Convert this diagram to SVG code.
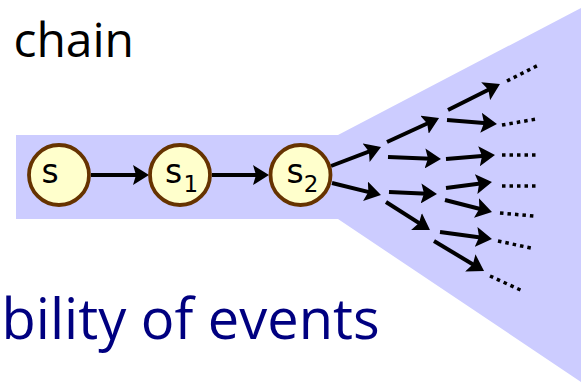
<svg xmlns="http://www.w3.org/2000/svg" width="581" height="382" viewBox="0 0 581 382">
<style>
.node circle{fill:#FFFFCC;stroke:#663300;stroke-width:3.8}
.lbl{font-family:"DejaVu Sans",sans-serif;font-size:33px;fill:#000}
.sub{font-size:23px}
.edge{stroke:#000;stroke-width:4;fill:none;marker-end:url(#ah)}
.dots{stroke:#000;stroke-width:3.5;fill:none;stroke-dasharray:3.5 4}
.big{font-family:"Open Sans","DejaVu Sans",sans-serif}
</style>
<defs>
<marker id="ah" markerUnits="userSpaceOnUse" markerWidth="16" markerHeight="20" refX="12" refY="10" orient="auto">
<path d="M0,0 L16,10 L0,20 L3,10 z" fill="#000"/>
</marker>
</defs>
<polygon id="band" points="16,135 338,135 581,8 581,382 338,219 16,219" fill="#CCCCFF"/>
<text class="big" x="13.4" y="56.7" font-size="48" fill="#000">chain</text>
<text class="big" x="1.5" y="339.3" font-size="56" fill="#000080">bility of events</text>
<g id="connectors">
<line class="edge" x1="91" y1="175" x2="145" y2="175"/>
<line class="edge" x1="212" y1="175" x2="265" y2="175"/>
<line class="edge" x1="331" y1="166" x2="377.3" y2="148.4"/>
<line class="edge" x1="332" y1="183" x2="377.1" y2="194.1"/>
<line class="edge" x1="387" y1="142" x2="435.4" y2="119.7"/>
<line class="edge" x1="388" y1="157" x2="437" y2="158.9"/>
<line class="edge" x1="389" y1="192" x2="433" y2="193.9"/>
<line class="edge" x1="386" y1="202" x2="426.6" y2="227.9"/>
<line class="edge" x1="448" y1="110" x2="496.4" y2="85.8"/>
<line class="edge" x1="447" y1="120" x2="493" y2="123.7"/>
<line class="edge" x1="446" y1="159" x2="491" y2="155.3"/>
<line class="edge" x1="446" y1="188" x2="488" y2="182.5"/>
<line class="edge" x1="445" y1="200" x2="488.1" y2="211"/>
<line class="edge" x1="440" y1="232" x2="488" y2="238.5"/>
<line class="edge" x1="434" y1="241" x2="480.6" y2="269"/>
<line class="dots" x1="507" y1="81" x2="537" y2="65.8"/>
<line class="dots" x1="502" y1="125" x2="535.5" y2="119.2"/>
<line class="dots" x1="502" y1="155" x2="535.5" y2="155"/>
<line class="dots" x1="502" y1="186" x2="535.5" y2="186"/>
<line class="dots" x1="500" y1="213" x2="533.5" y2="216"/>
<line class="dots" x1="498" y1="241" x2="531" y2="248"/>
<line class="dots" x1="490" y1="276" x2="520.5" y2="290"/>
</g>
<g id="node-s" class="node">
<circle cx="59" cy="175" r="30"/>
<text class="lbl" x="41.5" y="183">s</text>
</g>
<g id="node-s1" class="node">
<circle cx="180" cy="175" r="30"/>
<text class="lbl" x="164.9" y="183">s<tspan class="sub" dx="1.5" dy="8.5">1</tspan></text>
</g>
<g id="node-s2" class="node">
<circle cx="300.5" cy="175" r="30"/>
<text class="lbl" x="286.5" y="183">s<tspan class="sub" dy="8.5">2</tspan></text>
</g>
</svg>
